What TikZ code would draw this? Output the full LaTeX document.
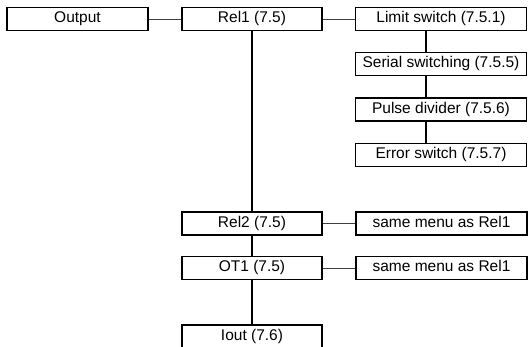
\documentclass[tikz,border=0pt]{standalone}
\usepackage{fontspec}
\setmainfont{Liberation Sans}
\begin{document}
\begin{tikzpicture}[x=1pt,y=-1pt,
    caja/.style={draw, line width=1.6pt, inner sep=0pt, minimum height=23pt,
        text height=11pt, text depth=3.5pt, font=\fontsize{15.5}{18}\selectfont},
    izq/.style={caja, minimum width=140pt},
    der/.style={caja, minimum width=171pt},
    linea/.style={line width=0.9pt, black!75},
    vert/.style={line width=1.8pt}]

        % Área de dibujo igual a la referencia
        \useasboundingbox (0,0) rectangle (528,347);

        % Primera fila
        \node[caja, minimum width=141pt] (out) at (77.5,19) {Output};
        \node[izq] (rel1) at (252,19) {Rel1 (7.5)};
        \node[der] (lim) at (441,19) {Limit switch (7.5.1)};

        % Submenú de Rel1 (columna derecha)
        \node[der] (ser) at (441,64) {Serial switching (7.5.5)};
        \node[der] (pul) at (441,109.5) {Pulse divider (7.5.6)};
        \node[der] (err) at (441,155) {Error switch (7.5.7)};

        % Columna central
        \node[izq] (rel2) at (252,223.5) {Rel2 (7.5)};
        \node[izq] (ot1) at (252,268) {OT1 (7.5)};
        \node[izq] (iout) at (252,336.5) {Iout (7.6)};

        % Mismo menú que Rel1
        \node[der] (same1) at (441.5,223.5) {same menu as Rel1};
        \node[der] (same2) at (441.5,268) {same menu as Rel1};

        % Conexiones horizontales (finas)
        \draw[linea] (out) -- (rel1);
        \draw[linea] (rel1) -- (lim);
        \draw[linea] (rel2) -- (same1);
        \draw[linea] (ot1) -- (same2);

        % Conexiones verticales de la columna central
        \draw[vert] (rel1) -- (rel2);
        \draw[vert] (rel2) -- (ot1);
        \draw[vert] (ot1) -- (iout);

        % Conexiones verticales de la columna derecha
        \draw[vert] ([xshift=-15pt]lim.south) -- ([xshift=-15pt]ser.north);
        \draw[vert] ([xshift=-15pt]ser.south) -- ([xshift=-15pt]pul.north);
        \draw[vert] ([xshift=-15pt]pul.south) -- ([xshift=-15pt]err.north);

\end{tikzpicture}
\end{document}
